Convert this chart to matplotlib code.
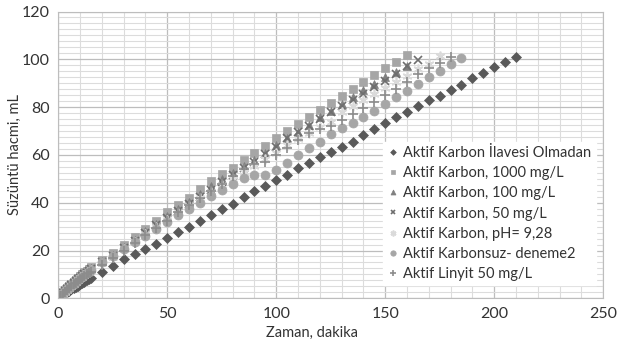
import numpy as np
import matplotlib
matplotlib.use('Agg')
import matplotlib.pyplot as plt
from matplotlib.ticker import MultipleLocator

plt.rcParams['font.family'] = ['Lato', 'DejaVu Sans']

# Zaman (dakika) - ilk 15 dakika her dakika, sonra 5 dakikada bir
t_early = [0, 1, 2, 3, 4, 5, 6, 7, 8, 9, 10, 11, 12, 13, 14, 15]

# Aktif Karbon Ilavesi Olmadan
t_a = t_early + [20, 25, 30, 35, 40, 45, 50, 55, 60, 65, 70, 75, 80, 85, 90, 95, 100,
                 105, 110, 115, 120, 125, 130, 135, 140, 145, 150, 155, 160, 165, 170,
                 175, 180, 185, 190, 195, 200, 205, 210]
v_a = [0.3, 0.9, 1.5, 2.0, 2.6, 3.1, 3.7, 4.2, 4.8, 5.3, 5.9, 6.4, 7.0, 7.5, 8.0, 8.5,
       11.1, 13.6, 16.3, 18.5, 20.6, 22.7, 25.4, 27.7, 30.0, 32.5, 34.9, 37.5, 39.6,
       42.3, 44.9, 47.1, 49.5, 51.8, 54.4, 56.5, 59.0, 61.3, 63.2, 65.5, 68.3, 71.0,
       73.5, 75.7, 77.8, 80.5, 83.0, 84.8, 87.2, 89.2, 92.0, 94.4, 96.8, 99.0, 101.0]

# Aktif Karbon, 1000 mg/L
t_b = t_early + [20, 25, 30, 35, 40, 45, 50, 55, 60, 65, 70, 75, 80, 85, 90, 95, 100,
                 105, 110, 115, 120, 125, 130, 135, 140, 145, 150, 155, 160]
v_b = [0.8, 1.7, 2.6, 3.5, 4.4, 5.3, 6.1, 6.9, 7.7, 8.5, 9.3, 10.1, 10.9, 11.6, 12.3, 13.0,
       16.0, 19.0, 22.3, 25.8, 28.9, 32.3, 36.0, 39.0, 42.0, 45.6, 49.0, 52.0, 54.6,
       57.7, 60.7, 63.7, 66.9, 69.8, 72.9, 75.7, 78.8, 81.6, 84.6, 87.4, 90.6, 93.4,
       96.2, 99.0, 102.0]

# Aktif Karbon, 100 mg/L
t_c = t_b
v_c = [0.6, 1.5, 2.4, 3.2, 4.1, 4.9, 5.7, 6.5, 7.3, 8.1, 8.9, 9.7, 10.4, 11.1, 11.8, 12.5,
       15.5, 18.0, 21.5, 24.5, 28.0, 31.0, 34.5, 37.5, 40.5, 43.5, 47.0, 50.0, 52.5,
       55.5, 58.0, 60.7, 64.0, 67.0, 69.7, 72.5, 75.7, 78.5, 81.2, 84.1, 87.2, 89.5,
       92.5, 94.5, 97.0]

# Aktif Karbon, 50 mg/L
t_d = t_b + [165]
v_d = [0.5, 1.4, 2.2, 3.0, 3.9, 4.7, 5.5, 6.3, 7.1, 7.9, 8.7, 9.4, 10.1, 10.8, 11.5, 12.2,
       15.0, 17.5, 21.0, 24.0, 27.5, 30.5, 33.5, 36.5, 39.5, 42.5, 45.3, 48.8, 51.6,
       54.4, 57.2, 60.5, 63.5, 67.0, 69.5, 72.0, 75.0, 78.0, 80.5, 83.0, 85.5, 88.5,
       91.0, 94.0, 97.2, 99.7]

# Aktif Karbon, pH= 9,28
t_e = t_b + [165, 170, 175]
v_e = [0.4, 1.2, 2.0, 2.8, 3.6, 4.4, 5.2, 6.0, 6.8, 7.6, 8.3, 9.0, 9.7, 10.4, 11.1, 11.8,
       14.8, 17.2, 20.5, 23.5, 26.8, 29.8, 32.8, 35.8, 38.8, 41.8, 44.5, 47.5, 50.0,
       52.8, 55.5, 58.5, 61.0, 64.0, 66.5, 69.0, 71.5, 73.9, 78.0, 80.5, 83.0, 85.5,
       87.9, 90.5, 93.0, 96.0, 98.0, 101.4]

# Aktif Karbonsuz- deneme2
t_f = t_b + [165, 170, 175, 180, 185]
v_f = [0.5, 1.3, 2.1, 2.9, 3.7, 4.5, 5.3, 6.1, 6.9, 7.7, 8.4, 9.1, 9.8, 10.5, 11.2, 11.9,
       15.0, 17.5, 20.5, 23.5, 26.0, 29.0, 32.0, 35.0, 37.5, 40.0, 43.0, 45.5, 48.0,
       50.5, 51.5, 51.5, 53.5, 56.8, 60.0, 62.8, 65.5, 68.6, 71.1, 73.5, 76.0, 78.4,
       81.2, 84.1, 86.9, 89.5, 92.5, 95.1, 98.0, 100.4]

# Aktif Linyit 50 mg/L
t_g = t_b + [165, 170, 175, 180]
v_g = [0.3, 1.1, 1.9, 2.7, 3.5, 4.2, 5.0, 5.8, 6.5, 7.2, 7.9, 8.6, 9.3, 10.0, 10.6, 11.2,
       14.0, 17.0, 20.0, 23.0, 26.5, 29.5, 32.5, 36.0, 39.0, 42.0, 45.0, 48.0, 51.0,
       54.0, 56.0, 57.2, 60.0, 62.8, 66.2, 69.0, 70.7, 72.0, 74.6, 77.0, 79.5, 82.3,
       85.0, 87.4, 90.5, 93.7, 96.2, 98.3, 101.0]

series = [
    (t_a, v_a, 'Aktif Karbon İlavesi Olmadan', 'D', '#595959', 4.8),
    (t_b, v_b, 'Aktif Karbon, 1000 mg/L', 's', '#a6a6a6', 6),
    (t_c, v_c, 'Aktif Karbon, 100 mg/L', '^', '#808080', 6),
    (t_d, v_d, 'Aktif Karbon, 50 mg/L', 'x', '#6e6e6e', 6),
    (t_e, v_e, 'Aktif Karbon, pH= 9,28', (6, 2, 0), '#dadada', 7),
    (t_f, v_f, 'Aktif Karbonsuz- deneme2', 'o', '#a6a6a6', 6.5),
    (t_g, v_g, 'Aktif Linyit 50 mg/L', '+', '#8c8c8c', 7),
]

fig = plt.figure(figsize=(6.17, 3.47), dpi=100)
ax = fig.add_axes([0.0945, 0.1403, 0.883, 0.8265])

for t, v, name, mk, col, ms in series:
    ax.plot(t, v, linestyle='none', marker=mk, color=col, markersize=ms,
            markeredgewidth=1.2 if mk in ('x', '+', (6, 2, 0)) else 0.5,
            label=name)

ax.set_xlim(0, 250)
ax.set_ylim(0, 120)
ax.xaxis.set_major_locator(MultipleLocator(50))
ax.xaxis.set_minor_locator(MultipleLocator(10))
ax.yaxis.set_major_locator(MultipleLocator(20))
ax.yaxis.set_minor_locator(MultipleLocator(2.5))
ax.grid(which='major', color='#bdbdbd', linewidth=0.9)
ax.grid(which='minor', color='#dcdcdc', linewidth=0.8)
ax.set_axisbelow(True)
ax.tick_params(which='both', length=0, labelsize=11.5, colors='#333333', pad=6)
for s in ax.spines.values():
    s.set_color('#bdbdbd')

ax.set_xlabel('Zaman, dakika', fontsize=10.5, color='#333333', labelpad=0)
ax.xaxis.set_label_coords(0.465, -0.095)
ax.set_ylabel('Süzüntü hacmi, mL', fontsize=10.5, color='#333333')
ax.yaxis.set_label_coords(-0.066, 0.5)

leg = ax.legend(loc='lower right', bbox_to_anchor=(1.0, 0.02), frameon=True,
                fontsize=10.5, markerscale=0.6, handlelength=0.8, handletextpad=0.3,
                labelspacing=0.42, borderpad=0.3, fancybox=False)
leg.get_frame().set_edgecolor('white')
leg.get_frame().set_facecolor('white')
leg.get_frame().set_alpha(1)
for txt in leg.get_texts():
    txt.set_color('#333333')

fig.savefig('out.png', dpi=100)
